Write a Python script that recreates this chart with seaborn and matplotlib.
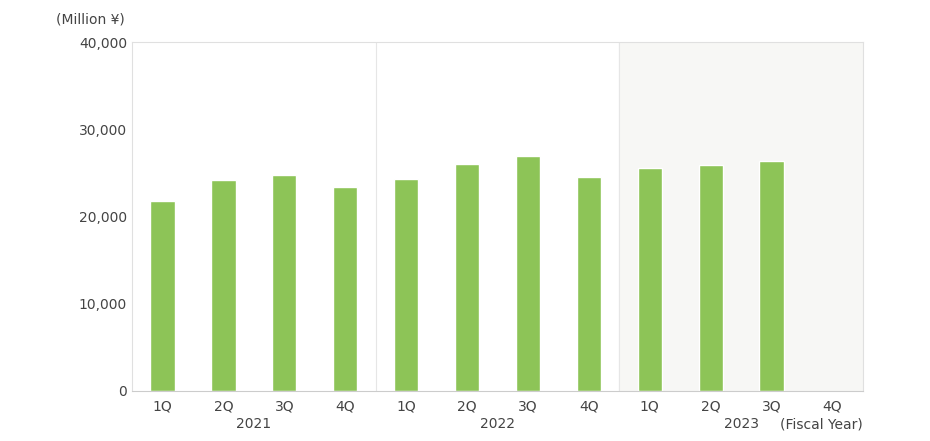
import numpy as np
import pandas as pd
import matplotlib
matplotlib.use("Agg")
import matplotlib.pyplot as plt
import seaborn as sns

# data
quarters = ["1Q", "2Q", "3Q", "4Q"]
years = ["2021", "2022", "2023"]
sales_2021 = [21800, 24200, 24800, 23400]
sales_2022 = [24300, 26000, 26900, 24500]
sales_2023 = [25600, 25900, 26400, np.nan]

rows = []
for y, vals in zip(years, [sales_2021, sales_2022, sales_2023]):
    for q, v in zip(quarters, vals):
        rows.append({"slot": f"{y}-{q}", "q": q, "value": v})
df = pd.DataFrame(rows)

sns.set_style("white")
plt.rcParams["font.family"] = ["DejaVu Sans"]

fig = plt.figure(figsize=(9.3, 4.41), dpi=100)
ax = fig.add_axes([132 / 930, 50 / 441, 731 / 930, 349 / 441])

ax.axvspan(7.5, 11.5, color="#f7f7f5", zorder=0)
sns.barplot(data=df, x="slot", y="value", color="#8dc457", width=0.4,
            saturation=1, ax=ax, zorder=2)

for xv in [3.5, 7.5]:
    ax.axvline(xv, color="#e6e6e6", lw=0.8, zorder=1)

ax.set_xlim(-0.5, 11.5)
ax.set_ylim(0, 40000)
ax.set_yticks([0, 10000, 20000, 30000, 40000])
ax.set_yticklabels([f"{v:,}" for v in [0, 10000, 20000, 30000, 40000]])
ax.set_xticks(range(12))
ax.set_xticklabels(df["q"])
ax.tick_params(axis="both", length=0, labelsize=10, colors="#444444")
ax.tick_params(axis="x", pad=6)
ax.set_xlabel("")
ax.set_ylabel("")
for s in ax.spines.values():
    s.set_color("#e0e0e0")
    s.set_linewidth(0.8)
ax.spines["bottom"].set_color("#cccccc")

for i, y in enumerate(years):
    ax.text(1.5 + 4 * i, -0.095, y, transform=ax.get_xaxis_transform(),
            ha="center", va="center", fontsize=10, color="#444444")
ax.text(11.5, -0.095, "(Fiscal Year)", transform=ax.get_xaxis_transform(),
        ha="right", va="center", fontsize=10, color="#444444")
ax.text(-0.62, 1.065, "(Million ¥)", transform=ax.get_xaxis_transform(),
        ha="right", va="center", fontsize=10, color="#444444")

fig.savefig("out.png", dpi=100)
